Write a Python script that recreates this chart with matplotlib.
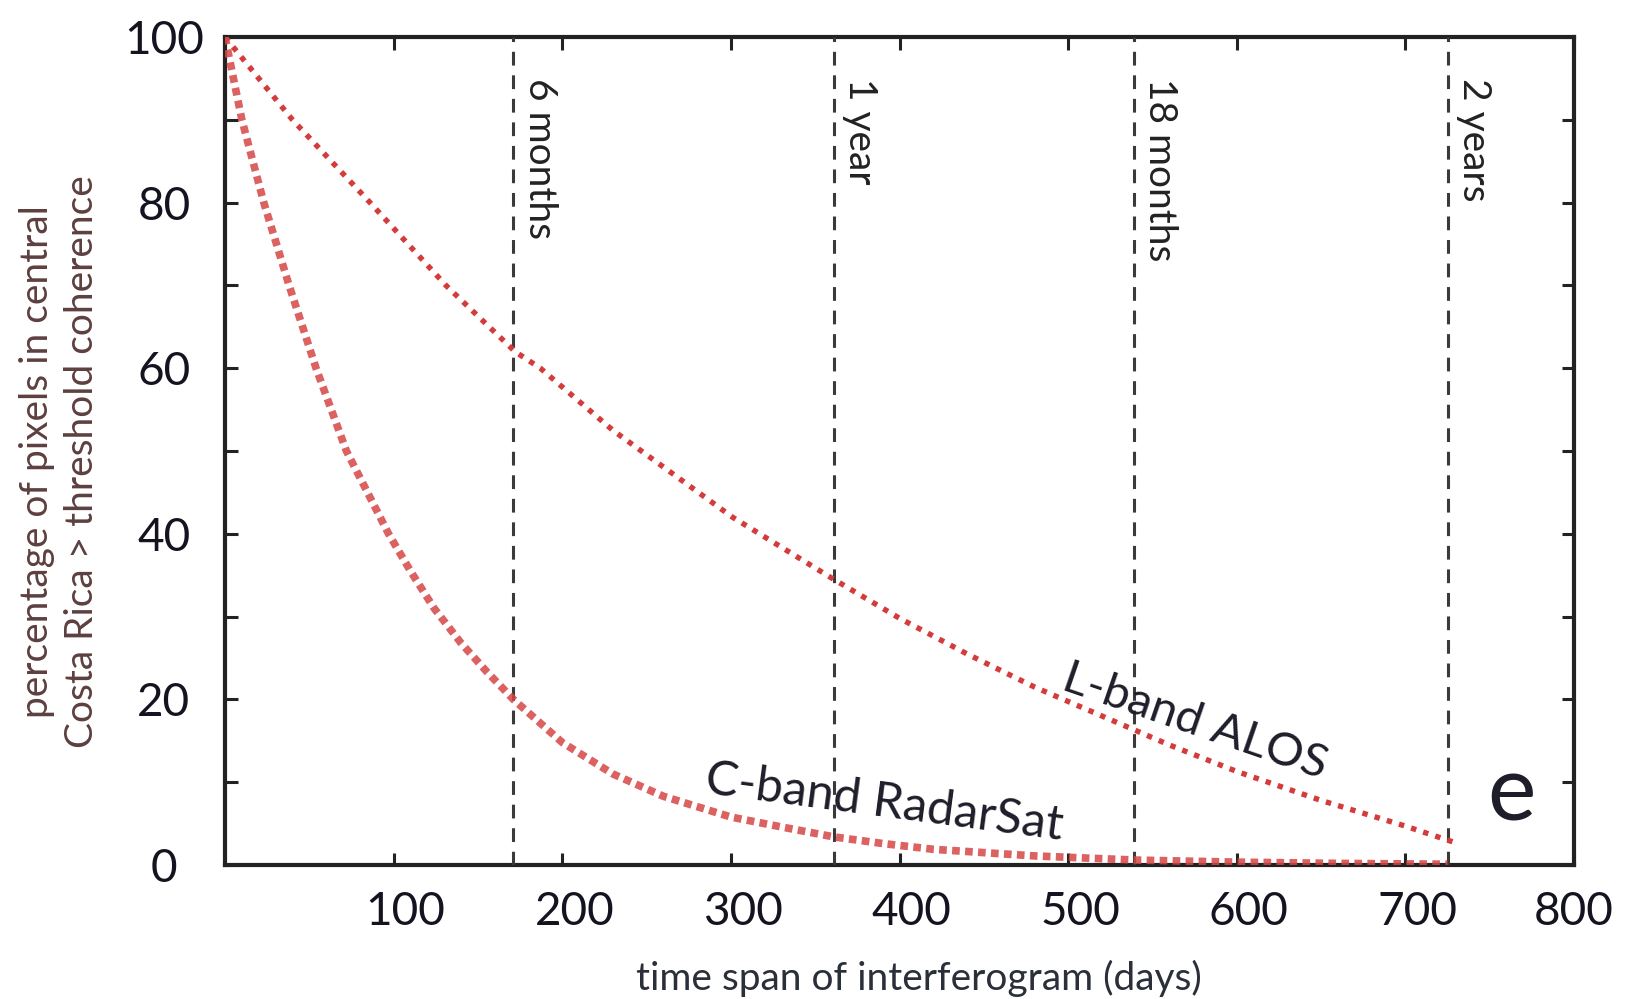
import matplotlib.pyplot as plt
import matplotlib.transforms as mtransforms

plt.rcParams['font.family'] = ['Lato', 'DejaVu Sans']

# valores (dias, % de pixeles)
dias_c = [0, 10, 23, 38, 54, 72, 97, 110, 124, 140, 155, 171, 200, 230, 260, 300, 330, 361,
          390, 420, 480, 540, 600, 660, 725]
pct_c = [100, 90, 80, 70, 60, 50, 40, 35.5, 31, 26.8, 23.4, 20, 14.8, 11, 8.3, 5.8, 4.6, 3.4,
         2.6, 1.9, 1.1, 0.6, 0.35, 0.2, 0.1]

dias_l = [0, 40, 86, 131, 172, 187, 230, 301, 361, 400, 440, 480, 520, 560, 600, 650, 700, 731]
pct_l = [100, 90, 80, 70, 62, 60, 52.5, 42, 34.5, 29.8, 25.5, 21.5, 18.0, 14.5, 11.3, 7.8, 4.7, 2.6]

# lineas verticales
marcas = [171, 361, 539, 725]
marcas_txt = ['6 months', '1 year', '18 months', '2 years']

xticks = [100, 200, 300, 400, 500, 600, 700, 800]
yticks = list(range(0, 101, 10))

fig = plt.figure(figsize=(16.4, 9.99), dpi=100)
ax = fig.add_axes([0.1372, 0.1341, 0.8226, 0.8289])

rojo = '#d43c3c'
ax.plot(dias_l, pct_l, color=rojo, lw=3.9, linestyle=(0, (1, 1.35)), zorder=4)
ax.plot(dias_c, pct_c, color='#d64545', lw=5.5, linestyle=(0, (1, 0.7)), alpha=0.85, zorder=4)

for xm, txt in zip(marcas, marcas_txt):
    ax.axvline(xm, color='#3a3a3a', lw=2.2, linestyle=(0, (4.5, 3.2)), zorder=3)
    ax.text(xm + 5, 95, txt, rotation=270, ha='left', va='top', fontsize=28,
            color='#222222')

ax.text(391, 7.5, 'C-band RadarSat', rotation=-7.5, ha='center', va='center',
        fontsize=35, color='#1e1e2a')
ax.text(575, 17.3, 'L-band ALOS', rotation=-19, ha='center', va='center',
        fontsize=34, color='#1e1e2a')
ax.text(763, 8.4, 'e', ha='center', va='center', fontsize=66, color='#1e1e2a')

ax.set_xlim(0, 800)
ax.set_ylim(0, 100)
ax.set_xticks(xticks)
ax.set_xticklabels([str(v) for v in xticks])
ax.set_yticks(yticks)
ax.set_yticklabels([str(v) if v % 20 == 0 else '' for v in yticks])
for lab in ax.get_yticklabels():
    lab.set_horizontalalignment('center')

ax.tick_params(direction='in', length=9, width=2.2, top=True, right=True,
               labelsize=33, colors='#222222', labelcolor='#141420')
ax.tick_params(axis='y', pad=44)
ax.tick_params(axis='x', pad=19)

# las etiquetas del eje x estan algo corridas a la derecha en el original
corr = mtransforms.ScaledTranslation(0.12, 0, fig.dpi_scale_trans)
for v, lab in zip(xticks, ax.get_xticklabels()):
    if v < 800:
        lab.set_transform(lab.get_transform() + corr)

for s in ax.spines.values():
    s.set_linewidth(3)
    s.set_color('#222222')

fig.text(37 / 1640, 1 - 462 / 999, 'percentage of pixels in central', rotation=90,
         ha='center', va='center', fontsize=28, color='#5e3f3f')
fig.text(82 / 1640, 1 - 462 / 999, 'Costa Rica > threshold coherence', rotation=90,
         ha='center', va='center', fontsize=28, color='#5e3f3f')
fig.text(919 / 1640, 1 - 978 / 999, 'time span of interferogram (days)',
         ha='center', va='center', fontsize=28, color='#2b2f3a')

fig.savefig('out.png', dpi=100)
